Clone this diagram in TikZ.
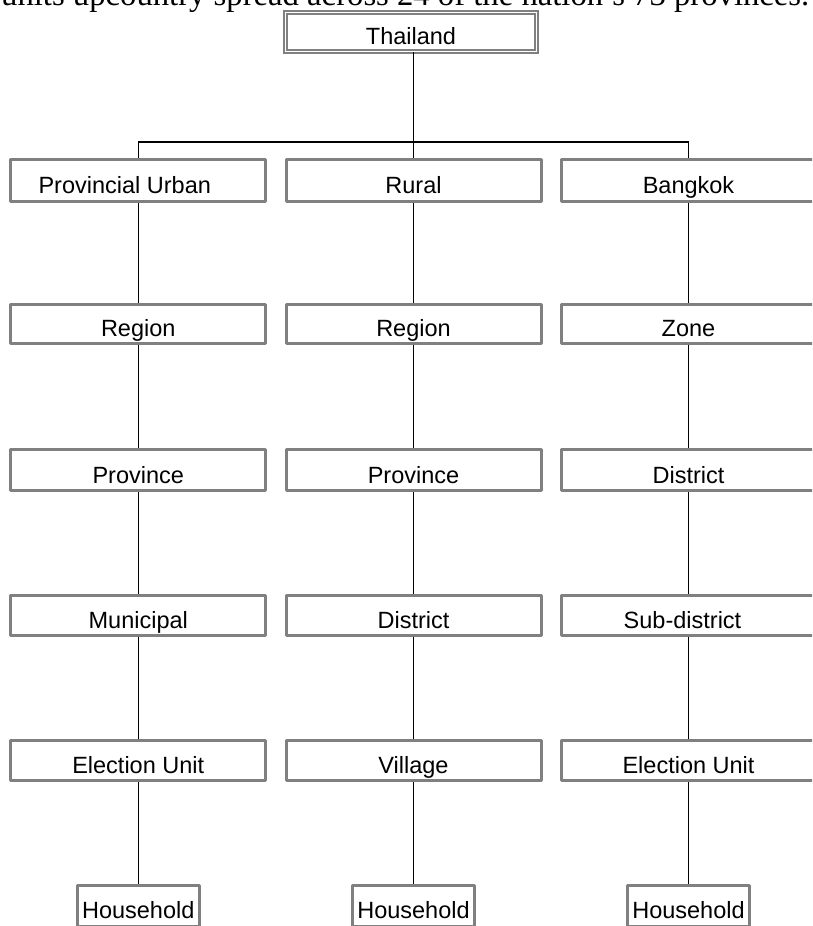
\documentclass[tikz,border=0pt]{standalone}
\usepackage{fontspec}
\setmainfont{Liberation Sans}
\newfontfamily\introfont{Liberation Serif}
\definecolor{boxgray}{RGB}{128,128,128}
\begin{document}
\begin{tikzpicture}[x=1pt,y=-1pt,
  lbl/.style={font=\fontsize{23.5}{28}\selectfont, text height=25.5pt, text depth=0pt, inner sep=0pt},
  box/.style={lbl, draw=boxgray, line width=3pt, line join=round, minimum width=255pt, minimum height=40pt},
  hbox/.style={box, minimum width=122.5pt},
  topbox/.style={lbl, draw=boxgray, line width=1.8pt, double=white, double distance=1.5pt, minimum width=251pt, minimum height=39pt},
  conn/.style={draw=black, line width=1.3pt}]
\useasboundingbox (0,0) rectangle (812,926);
\clip (0,0) rectangle (812,926);
\fill[white] (0,0) rectangle (812,926);

\node[anchor=base west, inner sep=0pt, font=\introfont] (intro) at (1,6)
  {\resizebox{808pt}{!}{units upcountry spread across 24 of the nation’s 73 provinces.}};

\node[topbox] (th) at (411,32) {Thailand};

% row 1
\node[box, minimum height=41.5pt] (pu) at (138.25,180.25) {\hspace*{-27pt}Provincial Urban};
\node[box, minimum height=41.5pt] (ru) at (413.5,180.25) {Rural};
\node[box, minimum height=41.5pt] (bk) at (688.5,180.25) {Bangkok};
% row 2
\node[box, minimum height=38.5pt] (pu2) at (138.25,324) {Region};
\node[box, minimum height=38.5pt] (ru2) at (413.5,324) {Region};
\node[box, minimum height=38.5pt] (bk2) at (688.5,324) {Zone};
% row 3
\node[box, minimum height=41pt] (pu3) at (138.25,470.25) {Province};
\node[box, minimum height=41pt] (ru3) at (413.5,470.25) {Province};
\node[box, minimum height=41pt] (bk3) at (688.5,470.25) {District};
% row 4
\node[box] (pu4) at (138.25,615.3) {Municipal};
\node[box] (ru4) at (413.5,615.3) {District};
\node[box] (bk4) at (688.5,615.3) {\hspace*{-12pt}Sub-district};
% row 5
\node[box] (pu5) at (138.25,760.5) {Election Unit};
\node[box] (ru5) at (413.5,760.5) {Village};
\node[box] (bk5) at (688.5,760.5) {Election Unit};
% row 6
\node[hbox, minimum height=41pt] (pu6) at (138.25,906) {Household};
\node[hbox, minimum height=41pt] (ru6) at (413.5,906) {Household};
\node[hbox, minimum height=41pt] (bk6) at (688.5,906) {Household};

\coordinate (hub) at (413.5,142);
\draw[conn] (th.south -| hub) -- (hub);
\draw[conn] (pu.north) |- (hub) -| (bk.north);
\draw[conn] (hub) -- (ru.north);

\foreach \c in {pu,ru,bk}{
  \draw[conn] (\c.south) -- (\c2.north);
  \draw[conn] (\c2.south) -- (\c3.north);
  \draw[conn] (\c3.south) -- (\c4.north);
  \draw[conn] (\c4.south) -- (\c5.north);
  \draw[conn] (\c5.south) -- (\c6.north);
}
\end{tikzpicture}
\end{document}
